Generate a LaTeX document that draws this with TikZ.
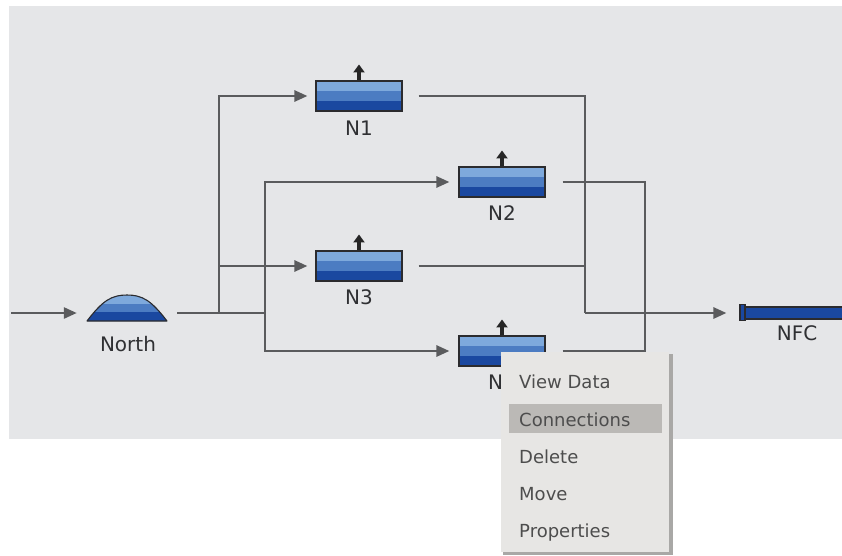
\documentclass[tikz,border=0pt]{standalone}
\usepackage{fontspec}
\setmainfont{DejaVu Sans}
\usetikzlibrary{arrows.meta}
\definecolor{bg}{HTML}{E5E6E8}
\definecolor{conn}{HTML}{5A5B5D}
\definecolor{blight}{HTML}{7EA9DC}
\definecolor{bmid}{HTML}{4C7CC2}
\definecolor{bdark}{HTML}{1A48A0}
\definecolor{outl}{HTML}{2B2B2E}
\definecolor{lblc}{HTML}{2F3033}
\definecolor{menubg}{HTML}{E7E6E4}
\definecolor{menushade}{HTML}{A9A8A6}
\definecolor{menuhl}{HTML}{BBB9B6}
\definecolor{menutxt}{HTML}{4D4D4D}
\begin{document}
\begin{tikzpicture}[x=1pt,y=-1pt,
 connector/.style={draw=conn,line width=2.6pt},
 arr/.style={-{Triangle[length=13pt,width=11pt]}},
 tank/.style={rectangle,draw=outl,line width=1.1pt,minimum width=86pt,minimum height=30pt,inner sep=0pt,fill=bdark,
   path picture={
     \fill[bmid] (path picture bounding box.north west) rectangle ([yshift=-20pt]path picture bounding box.north east);
     \fill[blight] (path picture bounding box.north west) rectangle ([yshift=-10pt]path picture bounding box.north east);}},
 lbl/.style={text=lblc,font=\fontsize{20}{24}\selectfont,inner sep=0pt},
 uparrow/.style={draw=black!85,line width=3.6pt,-{Triangle[length=8pt,width=11pt]}},
 menuitem/.style={anchor=base west,text=menutxt,font=\fontsize{18}{22}\selectfont,inner sep=0pt}]
\useasboundingbox (0,0) rectangle (842,555);
\fill[bg] (9,6) rectangle (842,439);

% North dome
\begin{scope}
 \clip (87,321) .. controls (103,300) and (112,295) .. (127,295) .. controls (142,295) and (151,300) .. (167,321) -- cycle;
 \fill[bdark] (85,293) rectangle (169,322);
 \fill[bmid] (85,293) rectangle (169,312);
 \fill[blight] (85,293) rectangle (169,303.5);
\end{scope}
\draw[outl,line width=1.1pt,line join=round] (87,321) .. controls (103,300) and (112,295) .. (127,295) .. controls (142,295) and (151,300) .. (167,321) -- cycle;
\node[inner sep=0pt,minimum width=80pt,minimum height=26pt] (north) at (127,308) {};
\node[lbl] (northl) at (128,344) {North};

% tanks
\node[tank] (n1) at (359,96) {};
\node[tank] (n2) at (502,182) {};
\node[tank] (n3) at (359,266) {};
\node[tank] (n4) at (502,351) {};
\foreach \n in {n1,n2,n3,n4}{\draw[uparrow] (\n.north) -- ++(0,-16);}
\node[lbl] (n1l) at (359,128) {N1};
\node[lbl] (n2l) at (502,213) {N2};
\node[lbl] (n3l) at (359,297) {N3};
\node[lbl] (n4l) at (502,382) {N4};

% NFC
\node[rectangle,draw=outl,fill=bdark,line width=1.1pt,minimum width=100pt,minimum height=12pt,inner sep=0pt] (nfc) at (795,313) {};
\filldraw[fill=bdark,draw=outl,line width=1.1pt] (740,304.5) rectangle (745,320.5);
\node[lbl] (nfcl) at (797,333) {NFC};

% connectors
\coordinate (in) at (11,313);
\coordinate (jA) at (219,313);
\coordinate (jB) at (265,313);
\coordinate (jC) at (585,313);
\coordinate (jD) at (645,313);
\draw[connector,arr,shorten >=10pt] (in) -- (in -| north.west);
\draw[connector,shorten <=10pt] (in -| north.east) -- (jB);
\draw[connector,arr,shorten >=8pt] (jA) |- (n1.west);
\draw[connector,arr,shorten >=8pt] (jA) |- (n3.west);
\draw[connector,arr,shorten >=9pt] (jB) |- (n2.west);
\draw[connector,arr,shorten >=9pt] (jB) |- (n4.west);
\draw[connector,shorten <=16pt] (n1.east) -| (jC);
\draw[connector,shorten <=16pt] (n3.east) -| (jC);
\draw[connector,shorten <=17pt] (n2.east) -| (jD);
\draw[connector,shorten <=17pt] (n4.east) -| (jD);
\draw[connector,arr,shorten >=18pt] (jC) -- (jC -| nfc.west);

% context menu
\fill[menushade] (503,354) rectangle (673,555);
\node[fill=menubg,minimum width=168pt,minimum height=200pt,inner sep=0pt,anchor=north west] (menu) at (501,352) {};
\node[fill=menuhl,minimum width=153pt,minimum height=29pt,inner sep=0pt,anchor=north west] (hl) at (509,404) {};
\node[menuitem] (m1) at (519,388) {View Data};
\node[menuitem] (m2) at (519,426) {Connections};
\node[menuitem] (m3) at (519,463) {Delete};
\node[menuitem] (m4) at (519,500) {Move};
\node[menuitem] (m5) at (519,537) {Properties};
\end{tikzpicture}
\end{document}
